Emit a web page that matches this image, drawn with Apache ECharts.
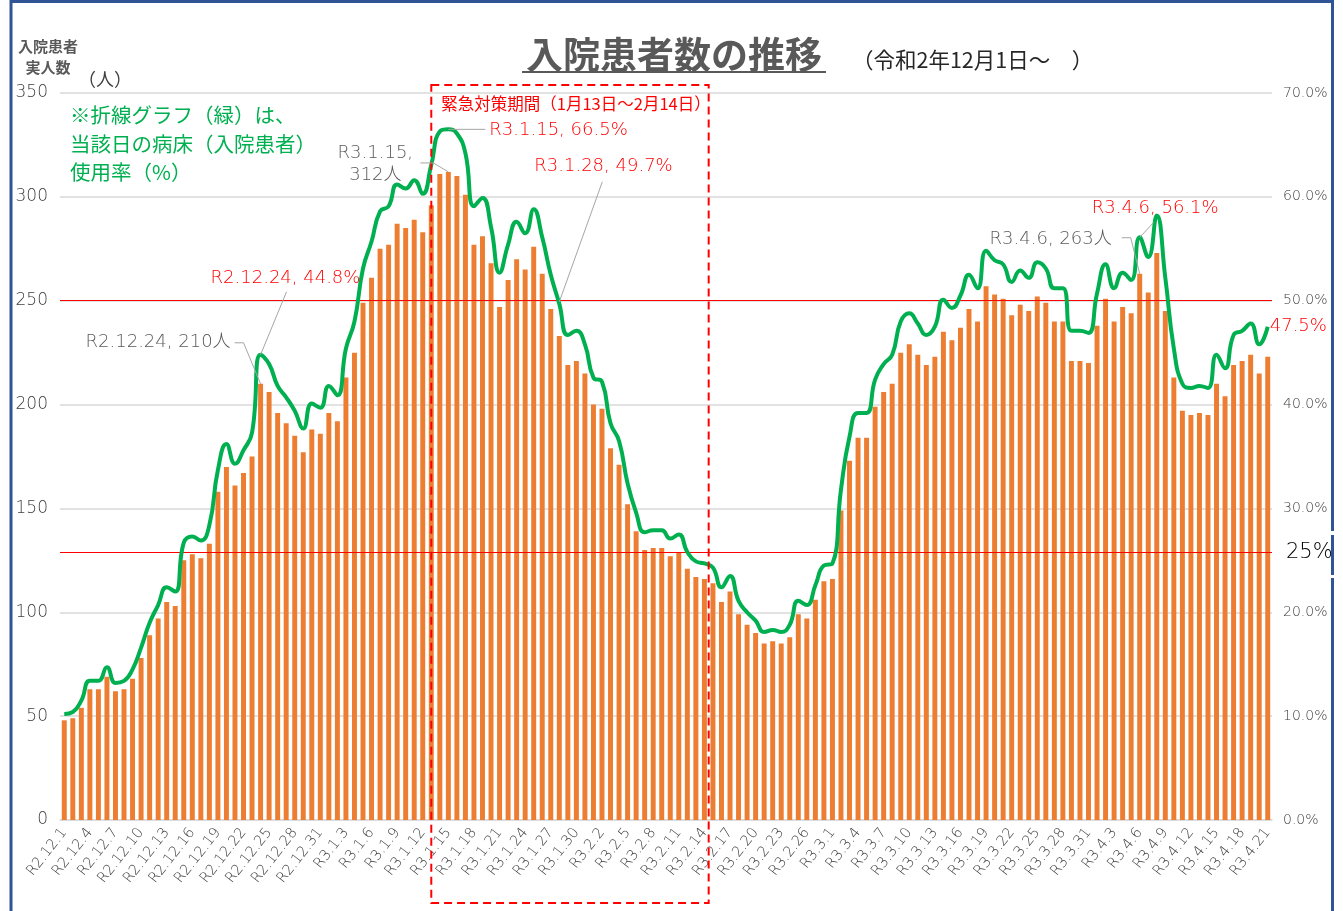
<!DOCTYPE html>
<html><head><meta charset="utf-8">
<script src="https://cdn.jsdelivr.net/npm/echarts@6/dist/echarts.min.js"></script>
<style>html,body{margin:0;padding:0;background:#fff}#c{width:1343px;height:911px}</style>
</head><body><div id="c"></div>
<script>
const categories = [
'R2.12.1','R2.12.2','R2.12.3','R2.12.4','R2.12.5','R2.12.6','R2.12.7','R2.12.8','R2.12.9','R2.12.10',
'R2.12.11','R2.12.12','R2.12.13','R2.12.14','R2.12.15','R2.12.16','R2.12.17','R2.12.18','R2.12.19','R2.12.20',
'R2.12.21','R2.12.22','R2.12.23','R2.12.24','R2.12.25','R2.12.26','R2.12.27','R2.12.28','R2.12.29','R2.12.30','R2.12.31',
'R3.1.1','R3.1.2','R3.1.3','R3.1.4','R3.1.5','R3.1.6','R3.1.7','R3.1.8','R3.1.9','R3.1.10',
'R3.1.11','R3.1.12','R3.1.13','R3.1.14','R3.1.15','R3.1.16','R3.1.17','R3.1.18','R3.1.19','R3.1.20',
'R3.1.21','R3.1.22','R3.1.23','R3.1.24','R3.1.25','R3.1.26','R3.1.27','R3.1.28','R3.1.29','R3.1.30','R3.1.31',
'R3.2.1','R3.2.2','R3.2.3','R3.2.4','R3.2.5','R3.2.6','R3.2.7','R3.2.8','R3.2.9','R3.2.10',
'R3.2.11','R3.2.12','R3.2.13','R3.2.14','R3.2.15','R3.2.16','R3.2.17','R3.2.18','R3.2.19','R3.2.20',
'R3.2.21','R3.2.22','R3.2.23','R3.2.24','R3.2.25','R3.2.26','R3.2.27','R3.2.28',
'R3.3.1','R3.3.2','R3.3.3','R3.3.4','R3.3.5','R3.3.6','R3.3.7','R3.3.8','R3.3.9','R3.3.10',
'R3.3.11','R3.3.12','R3.3.13','R3.3.14','R3.3.15','R3.3.16','R3.3.17','R3.3.18','R3.3.19','R3.3.20',
'R3.3.21','R3.3.22','R3.3.23','R3.3.24','R3.3.25','R3.3.26','R3.3.27','R3.3.28','R3.3.29','R3.3.30','R3.3.31',
'R3.4.1','R3.4.2','R3.4.3','R3.4.4','R3.4.5','R3.4.6','R3.4.7','R3.4.8','R3.4.9','R3.4.10',
'R3.4.11','R3.4.12','R3.4.13','R3.4.14','R3.4.15','R3.4.16','R3.4.17','R3.4.18','R3.4.19','R3.4.20','R3.4.21'
];
// 入院患者実人数（人）
const patients = [
48,49,54,63,63,69,62,63,68,78,
89,97,105,103,125,128,126,133,158,170,
161,167,175,210,206,196,191,185,177,188,
186,196,192,213,225,249,261,275,277,287,
285,289,283,296,311,312,310,301,277,281,
268,247,260,270,265,276,263,246,233,219,
221,215,200,198,179,171,152,139,130,131,
131,127,129,121,117,116,114,105,110,99,
94,90,85,86,85,88,99,97,106,115,
116,149,173,184,184,199,206,210,225,229,
224,219,223,235,231,237,246,240,257,253,
251,243,248,245,252,249,240,240,221,221,
220,238,251,240,247,244,263,254,273,245,
213,197,195,196,195,210,204,219,221,224,
215,223
];
// 病床（入院患者）使用率（%）
const usageRate = [
10.2,10.4,11.5,13.4,13.4,14.7,13.2,13.4,14.5,16.6,
19.0,20.7,22.4,22.0,26.7,27.3,26.9,28.4,33.7,36.2,
34.3,35.6,37.3,44.8,43.9,41.8,40.7,39.4,37.7,40.1,
39.7,41.8,40.9,45.4,48.0,53.1,55.7,58.6,59.1,61.2,
60.8,61.6,60.3,63.1,66.3,66.5,66.1,64.2,59.1,59.9,
57.1,52.7,55.4,57.6,56.5,58.8,56.1,52.5,49.7,46.7,
47.1,45.8,42.6,42.2,38.2,36.5,32.4,29.6,27.7,27.9,
27.9,27.1,27.5,25.8,24.9,24.7,24.3,22.4,23.5,21.1,
20.0,19.2,18.1,18.3,18.1,18.8,21.1,20.7,22.6,24.5,
24.7,31.8,36.9,39.2,39.2,42.4,43.9,44.8,48.0,48.8,
47.8,46.7,47.5,50.1,49.3,50.5,52.5,51.2,54.8,53.9,
53.5,51.8,52.9,52.2,53.7,53.1,51.2,51.2,47.1,47.1,
46.9,50.7,53.5,51.2,52.7,52.0,56.1,54.2,58.2,52.2,
45.4,42.0,41.6,41.8,41.6,44.8,43.5,46.7,47.1,47.8,
45.8,47.5
];
const refLines = [50, 25.8];           // red reference lines on the % axis
const emergencyStart = 'R3.1.13';
const emergencyEnd = 'R3.2.14';

const LAT = "'DejaVu Sans','Noto Sans CJK JP',sans-serif";
const JP = "'Noto Sans CJK JP',sans-serif";
const LW = 200; // light weight for latin texts

const chart = echarts.init(document.getElementById('c'), null, {renderer: 'canvas'});
chart.setOption({
  animation: false,
  backgroundColor: '#ffffff',
  grid: {left: 60, right: 71, top: 93, bottom: 91, containLabel: false, outerBoundsMode: 'none'},
  xAxis: {
    type: 'category', data: categories,
    axisLine: {lineStyle: {color: '#D9D9D9', width: 1.5}},
    axisTick: {interval: 2, length: 5, lineStyle: {color: '#D9D9D9'}},
    axisLabel: {interval: 2, rotate: 52, color: '#404040', fontFamily: LAT, fontWeight: LW, fontSize: 14.5, margin: 10}
  },
  yAxis: [
    {type: 'value', min: 0, max: 350, interval: 50,
     axisLine: {show: false}, axisTick: {show: false},
     splitLine: {lineStyle: {color: '#D9D9D9', width: 1.5}},
     axisLabel: {color: '#404040', fontFamily: LAT, fontWeight: LW, fontSize: 17, margin: 12}},
    {type: 'value', min: 0, max: 70, interval: 10, position: 'right',
     axisLine: {show: false}, axisTick: {show: false}, splitLine: {show: false},
     axisLabel: {color: '#404040', fontFamily: LAT, fontWeight: LW, fontSize: 14, margin: 11,
                 formatter: v => v.toFixed(1) + '%'}}
  ],
  series: [
    {type: 'bar', data: patients, barWidth: '58%', itemStyle: {color: '#ED7D31'}, z: 2},
    {type: 'line', yAxisIndex: 1, data: usageRate, smooth: 0.5, symbol: 'none',
     lineStyle: {color: '#00B050', width: 4}, z: 4,
     markLine: {silent: true, symbol: 'none', label: {show: false}, z: 3,
       lineStyle: {color: '#FF0000', width: 1, type: 'solid'},
       data: refLines.map(v => ({yAxis: v}))}}
  ]
});

const pB = i => chart.convertToPixel({xAxisIndex: 0, yAxisIndex: 0}, [i, patients[i]]);
const pL = i => chart.convertToPixel({xAxisIndex: 0, yAxisIndex: 1}, [i, usageRate[i]]);
const pX = i => chart.convertToPixel({xAxisIndex: 0, yAxisIndex: 0}, [i, 0])[0];

const G = [];
const txt = (x, y, text, font, fill, align, z) => G.push({type: 'text', x: x, y: y, z: z || 20,
  style: {text: text, font: font, fill: fill, align: align || 'left', verticalAlign: 'middle'}});
const poly = (pts, color) => G.push({type: 'polyline', z: 19,
  shape: {points: pts}, style: {stroke: color || '#A6A6A6', lineWidth: 1, fill: null}});
const AF = LW + ' 18px ' + LAT;

// title
txt(674, 55, '入院患者数の推移', 'bold 37px ' + JP, '#595959', 'center');
G.push({type: 'line', z: 20, shape: {x1: 522, y1: 72, x2: 826, y2: 72}, style: {stroke: '#595959', lineWidth: 2}});
txt(852, 60, '（令和2年12月1日～　）', '21.5px ' + JP, '#262626', 'left');
// axis titles
txt(48, 46, '入院患者', 'bold 15px ' + JP, '#595959', 'center');
txt(48, 67, '実人数', 'bold 15px ' + JP, '#595959', 'center');
txt(78, 79, '（人）', '18px ' + JP, '#404040', 'left');
// note
txt(70, 115, '※折線グラフ（緑）は、', '20.5px ' + JP, '#00B050', 'left');
txt(70, 144, '当該日の病床（入院患者）', '20.5px ' + JP, '#00B050', 'left');
txt(70, 172, '使用率（%）', '20.5px ' + JP, '#00B050', 'left');

// emergency period box
const iS = categories.indexOf(emergencyStart), iE = categories.indexOf(emergencyEnd);
const bx0 = pX(iS), bx1 = (pX(iE) + pX(iE + 1)) / 2;
G.push({type: 'rect', z: 18, shape: {x: bx0, y: 85, width: bx1 - bx0, height: 818},
  style: {fill: null, stroke: '#FF0000', lineWidth: 2, lineDash: [8, 5]}});
txt(bx0 + 10, 104, '緊急対策期間（1月13日～2月14日）', '16.5px ' + JP, '#FF0000', 'left');

// annotations
let p;
p = pB(23);
txt(p[0] - 30, p[1] - 41, 'R2.12.24, 210人', AF, '#595959', 'right');
poly([[p[0] - 26, p[1] - 41], [p[0] - 17, p[1] - 41], [p[0], p[1]]]);
p = pL(23);
txt(p[0] - 50, p[1] - 76, 'R2.12.24, 44.8%', AF, '#FF0000', 'left');
poly([[p[0] + 26, p[1] - 63], [p[0], p[1]]]);
p = pB(45);
txt(p[0] - 73, p[1] - 19, 'R3.1.15,', AF, '#595959', 'center');
txt(p[0] - 73, p[1] + 3, '312人', AF, '#595959', 'center');
poly([[p[0] - 28, p[1] - 9], [p[0] - 15, p[1] - 9], [p[0], p[1]]]);
p = pL(45);
txt(p[0] + 41, p[1] + 1, 'R3.1.15, 66.5%', AF, '#FF0000', 'left');
poly([[p[0], p[1]], [p[0] + 37, p[1]]]);
p = pL(58);
txt(p[0] - 25, p[1] - 138, 'R3.1.28, 49.7%', AF, '#FF0000', 'left');
poly([[p[0] + 43, p[1] - 122], [p[0], p[1] - 2]]);
p = pB(126);
txt(p[0] - 28, p[1] - 34, 'R3.4.6, 263人', AF, '#595959', 'right');
poly([[p[0] - 18, p[1] - 36], [p[0] - 9, p[1] - 36], [p[0], p[1]]]);
p = pL(126);
txt(p[0] - 48, p[1] - 29, 'R3.4.6, 56.1%', AF, '#FF0000', 'left');
poly([[p[0] + 14, p[1] - 15], [p[0], p[1]]]);
p = pL(141);
txt(p[0] + 2, p[1], '47.5%', AF, '#FF0000', 'left');

// 25% label on right
txt(1286, 553, '25%', LW + ' 21px ' + LAT, '#000000', 'left');

// frame
G.push({type: 'rect', z: 30, shape: {x: 11, y: 1.5, width: 1321.5, height: 930},
  style: {fill: null, stroke: '#2F5597', lineWidth: 3}});
G.push({type: 'rect', z: 31, shape: {x: 1329, y: 531, width: 8, height: 4}, style: {fill: '#ffffff'}});
G.push({type: 'rect', z: 31, shape: {x: 1329, y: 575, width: 8, height: 3}, style: {fill: '#ffffff'}});

chart.setOption({graphic: G});
</script></body></html>
